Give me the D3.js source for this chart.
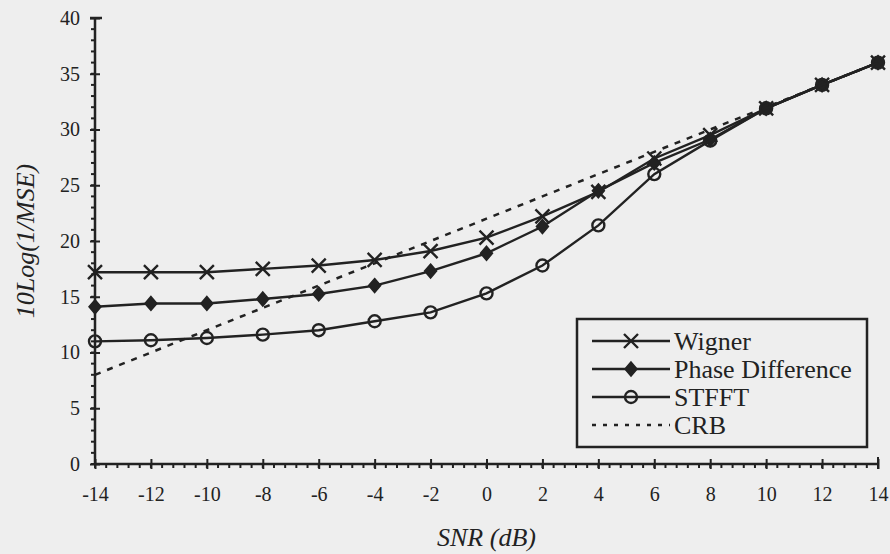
<!DOCTYPE html>
<html><head><meta charset="utf-8">
<script src="https://cdn.jsdelivr.net/npm/d3@7"></script>
<style>html,body{margin:0;padding:0;background:#eeeeee;}svg{display:block;}
text{font-family:"Liberation Serif","Times New Roman",serif;}</style>
</head><body>
<svg id="chart" width="890" height="554"></svg>
<script>
const snr = [-14,-12,-10,-8,-6,-4,-2,0,2,4,6,8,10,12,14];
const wigner = [17.2,17.2,17.2,17.5,17.8,18.3,19.1,20.3,22.2,24.4,27.4,29.5,31.9,34.0,36.0];
const phaseDiff = [14.1,14.4,14.4,14.8,15.25,16.0,17.3,18.9,21.3,24.5,27.0,29.1,31.9,34.0,36.0];
const stfft = [11.0,11.1,11.3,11.6,12.0,12.8,13.6,15.3,17.8,21.4,26.0,29.0,31.9,34.0,36.0];
const crb = [8,10,12,14,16,18,20,22,24,26,28,30,32,34,36];
const xTicks = [-14,-12,-10,-8,-6,-4,-2,0,2,4,6,8,10,12,14];
const yTicks = [0,5,10,15,20,25,30,35,40];
const legendNames = ["Wigner","Phase Difference","STFFT","CRB"];

const svg = d3.select("#chart");
const ink = "#222";
const x = d3.scaleLinear().domain([-14,14]).range([95,878]);
const y = d3.scaleLinear().domain([0,40]).range([464,18]);
const font = '"Liberation Serif","Times New Roman",serif';

// minor ticks
const g = svg.append("g");
g.selectAll(".xm").data(d3.range(-14,14.001,0.4)).join("line")
  .attr("x1",d=>x(d)).attr("x2",d=>x(d)).attr("y1",y(0)).attr("y2",y(0)+4)
  .attr("stroke",ink).attr("stroke-width",2);
g.selectAll(".ym").data(d3.range(0,40.001,1)).join("line")
  .attr("x1",x(-14)-4).attr("x2",x(-14)).attr("y1",d=>y(d)).attr("y2",d=>y(d))
  .attr("stroke",ink).attr("stroke-width",2);

// axes via d3 axis
const xAxis = d3.axisBottom(x).tickValues(xTicks).tickSizeInner(5).tickSizeOuter(0).tickPadding(18).tickFormat(d=>String(d));
const xg = svg.append("g").attr("transform",`translate(0,${y(0)})`).call(xAxis);
xg.attr("font-family",null);
xg.select(".domain").attr("stroke",ink).attr("stroke-width",2.5).attr("d",`M${x(-14)},0H${x(14)}`);
xg.selectAll(".tick line").attr("stroke",ink).attr("stroke-width",2).attr("y1",-5).attr("y2",5);
xg.selectAll(".tick text").style("font-family",font).attr("font-size",20).attr("fill",ink).attr("dy","0.71em");

const yAxis = d3.axisLeft(y).tickValues(yTicks).tickSizeInner(5).tickSizeOuter(0).tickPadding(10).tickFormat(d=>String(d));
const yg = svg.append("g").attr("transform",`translate(${x(-14)},0)`).call(yAxis);
yg.attr("font-family",null);
yg.select(".domain").attr("stroke",ink).attr("stroke-width",2.5).attr("d",`M0,${y(0)}V${y(40)}`);
yg.selectAll(".tick line").attr("stroke",ink).attr("stroke-width",2).attr("x1",-5).attr("x2",5);
yg.selectAll(".tick text").style("font-family",font).attr("font-size",20).attr("fill",ink);
// top cap
svg.append("line").attr("x1",x(-14)-5).attr("x2",x(-14)+7).attr("y1",y(40)).attr("y2",y(40)).attr("stroke",ink).attr("stroke-width",2.5);
// right end tick on x axis
svg.append("line").attr("x1",x(14)).attr("x2",x(14)).attr("y1",y(0)-7).attr("y2",y(0)+5).attr("stroke",ink).attr("stroke-width",2);

// axis titles
svg.append("text").attr("x",x(0)).attr("y",546).attr("text-anchor","middle")
  .style("font-family",font).attr("font-style","italic").attr("font-size",26).attr("fill",ink).text("SNR (dB)");
svg.append("text").attr("transform",`translate(34,${y(20)}) rotate(-90)`).attr("text-anchor","middle")
  .style("font-family",font).attr("font-style","italic").attr("font-size",26).attr("fill",ink).text("10Log(1/MSE)");

const line = d3.line().x((d,i)=>x(snr[i])).y(d=>y(d));

// CRB dashed
svg.append("path").datum(crb).attr("d",line).attr("fill","none").attr("stroke",ink)
  .attr("stroke-width",2.5).attr("stroke-dasharray","6,7");

const series = [
  {name:"Wigner", vals:wigner, m:"x"},
  {name:"Phase Difference", vals:phaseDiff, m:"d"},
  {name:"STFFT", vals:stfft, m:"o"}
];
function marker(sel, type, cx, cy){
  if(type==="x"){
    sel.append("path").attr("d",`M${cx-7},${cy-7}L${cx+7},${cy+7}M${cx-7},${cy+7}L${cx+7},${cy-7}`)
      .attr("stroke",ink).attr("stroke-width",2.4).attr("fill","none");
  } else if(type==="d"){
    sel.append("path").attr("d",`M${cx},${cy-7}L${cx+6},${cy}L${cx},${cy+7}L${cx-6},${cy}Z`)
      .attr("stroke",ink).attr("stroke-width",1.5).attr("fill",ink);
  } else {
    sel.append("circle").attr("cx",cx).attr("cy",cy).attr("r",6)
      .attr("stroke",ink).attr("stroke-width",2.4).attr("fill","none");
  }
}
series.forEach(s=>{
  svg.append("path").datum(s.vals).attr("d",line).attr("fill","none").attr("stroke",ink).attr("stroke-width",2.4);
  const mg = svg.append("g");
  s.vals.forEach((v,i)=>marker(mg,s.m,x(snr[i]),y(v)));
});

// legend
const lg = svg.append("g");
lg.append("rect").attr("x",577).attr("y",319).attr("width",290).attr("height",128)
  .attr("fill","#eeeeee").attr("stroke",ink).attr("stroke-width",2.5);
const rowY = [341,369,397,425];
legendNames.forEach((n,i)=>{
  const yy = rowY[i];
  const ln = lg.append("line").attr("x1",592).attr("x2",670).attr("y1",yy).attr("y2",yy)
    .attr("stroke",ink).attr("stroke-width",i===3?2.5:2.4);
  if(i===3) ln.attr("stroke-dasharray","4,7");
  else marker(lg,["x","d","o"][i],631,yy);
  lg.append("text").attr("x",674).attr("y",yy).attr("dy","0.35em")
    .style("font-family",font).attr("font-size",26).attr("fill",ink).text(n);
});
</script>
</body></html>
